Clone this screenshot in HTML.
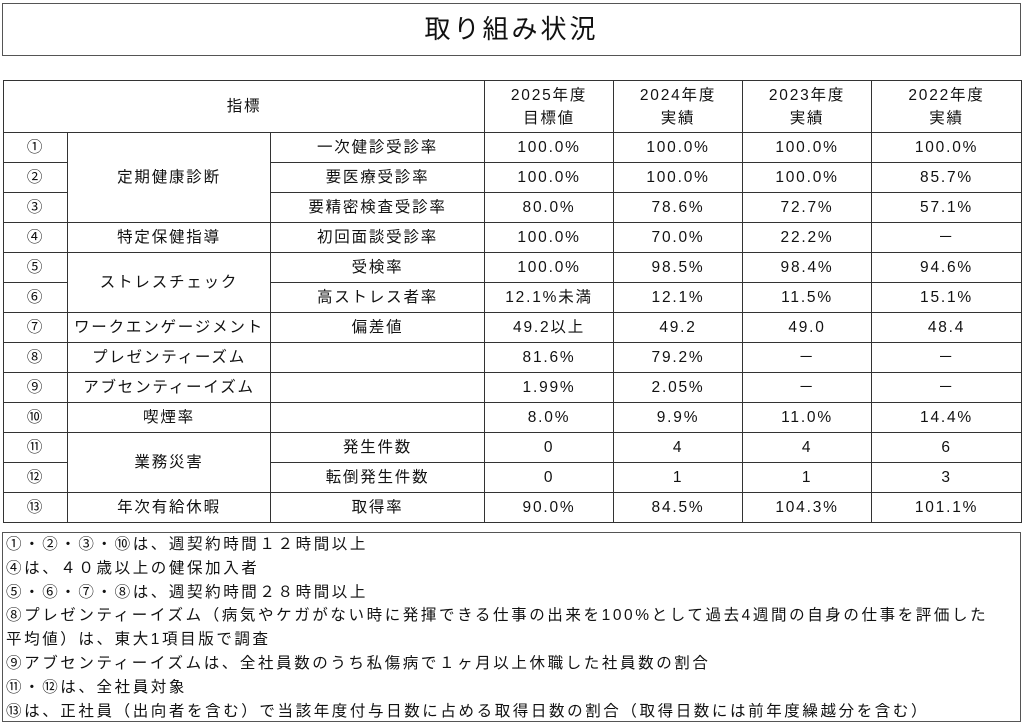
<!DOCTYPE html>
<html><head><meta charset="utf-8"><style>
body{margin:0;width:1024px;height:728px;background:#fff;font-family:"Liberation Sans","Noto Sans CJK JP",sans-serif;color:#111;position:relative;overflow:hidden}
.title{position:absolute;left:2px;top:3px;width:1017px;height:51px;border:1px solid #555;text-align:center;line-height:51px;font-size:26px;letter-spacing:3px}
table{position:absolute;left:3px;top:80px;border-collapse:collapse;table-layout:fixed;width:1018px;font-size:15.5px;letter-spacing:1.8px}
td{border:1px solid #333;text-align:center;padding:0;height:29px;line-height:18px;white-space:nowrap}
tr.h td{height:51px;line-height:23px}
.notes{position:absolute;left:2px;top:532px;height:190px;border:1px solid #555;font-size:15.5px;line-height:23.8px;padding-left:3px;box-sizing:border-box;width:1019px;letter-spacing:2.6px;white-space:nowrap}
</style></head><body>
<div class="title">取り組み状況</div>
<table>
<colgroup><col style="width:64px"><col style="width:203px"><col style="width:214px"><col style="width:129px"><col style="width:129px"><col style="width:129px"><col style="width:150px"></colgroup>
<tr class="h"><td colspan="3">指標</td><td>2025年度<br>目標値</td><td>2024年度<br>実績</td><td>2023年度<br>実績</td><td>2022年度<br>実績</td></tr>
<tr><td>①</td><td rowspan="3">定期健康診断</td><td>一次健診受診率</td><td>100.0%</td><td>100.0%</td><td>100.0%</td><td>100.0%</td></tr>
<tr><td>②</td><td>要医療受診率</td><td>100.0%</td><td>100.0%</td><td>100.0%</td><td>85.7%</td></tr>
<tr><td>③</td><td>要精密検査受診率</td><td>80.0%</td><td>78.6%</td><td>72.7%</td><td>57.1%</td></tr>
<tr><td>④</td><td>特定保健指導</td><td>初回面談受診率</td><td>100.0%</td><td>70.0%</td><td>22.2%</td><td>－</td></tr>
<tr><td>⑤</td><td rowspan="2">ストレスチェック</td><td>受検率</td><td>100.0%</td><td>98.5%</td><td>98.4%</td><td>94.6%</td></tr>
<tr><td>⑥</td><td>高ストレス者率</td><td>12.1%未満</td><td>12.1%</td><td>11.5%</td><td>15.1%</td></tr>
<tr><td>⑦</td><td>ワークエンゲージメント</td><td>偏差値</td><td>49.2以上</td><td>49.2</td><td>49.0</td><td>48.4</td></tr>
<tr><td>⑧</td><td>プレゼンティーズム</td><td></td><td>81.6%</td><td>79.2%</td><td>－</td><td>－</td></tr>
<tr><td>⑨</td><td>アブセンティーイズム</td><td></td><td>1.99%</td><td>2.05%</td><td>－</td><td>－</td></tr>
<tr><td>⑩</td><td>喫煙率</td><td></td><td>8.0%</td><td>9.9%</td><td>11.0%</td><td>14.4%</td></tr>
<tr><td>⑪</td><td rowspan="2">業務災害</td><td>発生件数</td><td>0</td><td>4</td><td>4</td><td>6</td></tr>
<tr><td>⑫</td><td>転倒発生件数</td><td>0</td><td>1</td><td>1</td><td>3</td></tr>
<tr><td>⑬</td><td>年次有給休暇</td><td>取得率</td><td>90.0%</td><td>84.5%</td><td>104.3%</td><td>101.1%</td></tr>
</table>
<div class="notes">①・②・③・⑩は、週契約時間１２時間以上<br>④は、４０歳以上の健保加入者<br>⑤・⑥・⑦・⑧は、週契約時間２８時間以上<br>⑧プレゼンティーイズム（病気やケガがない時に発揮できる仕事の出来を100%として過去4週間の自身の仕事を評価した<br>平均値）は、東大1項目版で調査<br>⑨アブセンティーイズムは、全社員数のうち私傷病で１ヶ月以上休職した社員数の割合<br>⑪・⑫は、全社員対象<br>⑬は、正社員（出向者を含む）で当該年度付与日数に占める取得日数の割合（取得日数には前年度繰越分を含む）</div>
</body></html>
